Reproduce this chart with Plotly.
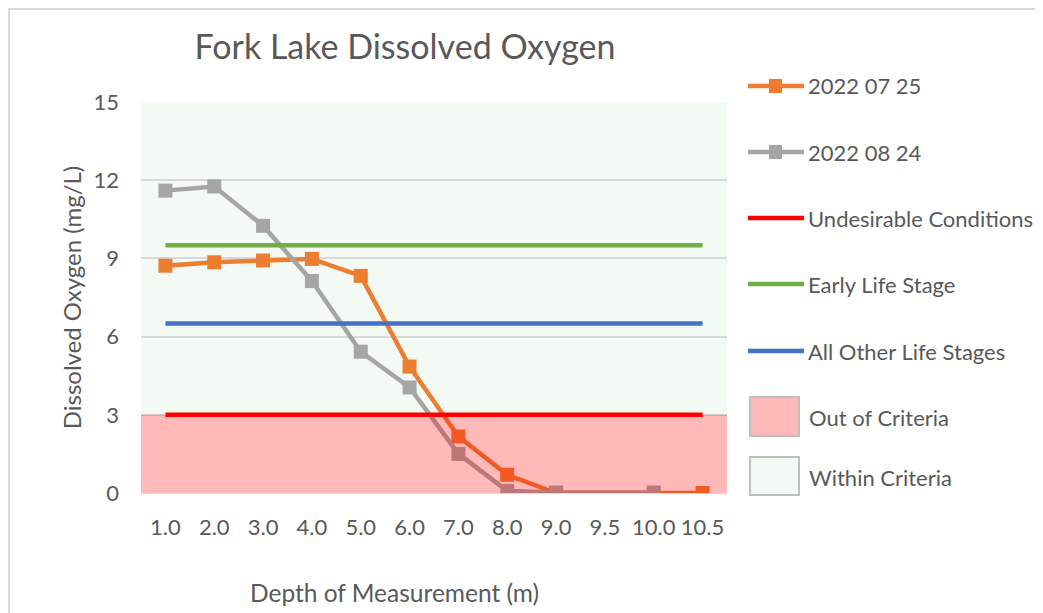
import plotly.graph_objects as go

depths = ["1.0", "2.0", "3.0", "4.0", "5.0", "6.0", "7.0", "8.0", "9.0", "9.5", "10.0", "10.5"]
do_0725 = [8.72, 8.85, 8.92, 8.98, 8.33, 4.85, 2.17, 0.70, 0.0, None, None, 0.0]
do_0824 = [11.60, 11.76, 10.25, 8.13, 5.42, 4.05, 1.50, 0.08, 0.02, None, 0.02, None]
undesirable = 3.0
early_life = 9.5
other_life = 6.5
y_ticks = [0, 3, 6, 9, 12, 15]

OFF = 8  # page body margin
W, H = 1043 - OFF, 613 - OFF
ML, MT = 141 - OFF, 102 - OFF
MR = W - (727 - OFF)
MB = H - (493 - OFF)
PW, PH = W - ML - MR, H - MT - MB
FONT = "Lato"
TXT = "#595959"


def px(x):
    # x in screen pixels of the reference
    return (x - OFF - ML) / PW


def py(y):
    return (MT + PH - (y - OFF)) / PH


fig = go.Figure()

fig.add_trace(go.Scatter(x=depths, y=do_0725, mode="lines+markers", name="2022 07 25",
                         connectgaps=True, line=dict(color="#ED7D31", width=4.5),
                         marker=dict(symbol="square", size=14, color="#ED7D31")))
fig.add_trace(go.Scatter(x=depths, y=do_0824, mode="lines+markers", name="2022 08 24",
                         connectgaps=True, line=dict(color="#A5A5A5", width=4.5),
                         marker=dict(symbol="square", size=14, color="#A5A5A5")))
for val, col, nm in [(undesirable, "#FF0000", "Undesirable Conditions"),
                     (early_life, "#70AD47", "Early Life Stage"),
                     (other_life, "#4472C4", "All Other Life Stages")]:
    fig.add_trace(go.Scatter(x=depths, y=[val] * len(depths), mode="lines", name=nm,
                             line=dict(color=col, width=4.5)))

shapes = []
# criteria bands
shapes.append(dict(type="rect", xref="paper", yref="y", x0=0, x1=1, y0=undesirable, y1=15,
                   fillcolor="#F3F9F3", line=dict(width=0), layer="below"))
shapes.append(dict(type="rect", xref="paper", yref="y", x0=0, x1=1, y0=0, y1=undesirable,
                   fillcolor="rgba(255,0,0,0.275)", line=dict(width=0), layer="above"))
# chart frame lines
shapes.append(dict(type="line", xref="paper", yref="paper", x0=px(OFF + 1), x1=px(OFF + 1),
                   y0=py(OFF), y1=py(613), line=dict(color="#D9D9D9", width=2)))
shapes.append(dict(type="line", xref="paper", yref="paper", x0=px(OFF), x1=px(1043),
                   y0=py(OFF + 1), y1=py(OFF + 1), line=dict(color="#D9D9D9", width=2)))

annotations = []
# manual legend
legend_lines = [("2022 07 25", "#ED7D31", 86, True),
                ("2022 08 24", "#A5A5A5", 152, True),
                ("Undesirable Conditions", "#FF0000", 218, False),
                ("Early Life Stage", "#70AD47", 284, False),
                ("All Other Life Stages", "#4472C4", 351, False)]
for name, col, yc, mk in legend_lines:
    shapes.append(dict(type="line", xref="paper", yref="paper", x0=px(748), x1=px(804),
                       y0=py(yc), y1=py(yc), line=dict(color=col, width=4.5)))
    if mk:
        shapes.append(dict(type="rect", xref="paper", yref="paper", x0=px(769), x1=px(782),
                           y0=py(yc + 7), y1=py(yc - 7), fillcolor=col, line=dict(width=0)))
    annotations.append(dict(text=name, xref="paper", yref="paper", x=px(806), y=py(yc),
                            xanchor="left", yanchor="middle", showarrow=False,
                            font=dict(family=FONT, size=22, color=TXT)))
legend_boxes = [("Out of Criteria", "#FFB9B9", 397, 436, 417),
                ("Within Criteria", "#F3F9F3", 457, 495, 477)]
for name, col, y0, y1, yc in legend_boxes:
    shapes.append(dict(type="rect", xref="paper", yref="paper", x0=px(750), x1=px(799),
                       y0=py(y1), y1=py(y0), fillcolor=col, line=dict(color="#BFBFBF", width=2)))
    annotations.append(dict(text=name, xref="paper", yref="paper", x=px(807), y=py(yc),
                            xanchor="left", yanchor="middle", showarrow=False,
                            font=dict(family=FONT, size=22, color=TXT)))

# x-axis title (offset left of plot centre, as in the original)
annotations.append(dict(text="Depth of Measurement (m)", xref="paper", yref="paper",
                        x=px(394), y=py(592), xanchor="center", yanchor="middle", showarrow=False,
                        font=dict(family=FONT, size=24.5, color=TXT)))

fig.update_layout(
    width=W, height=H,
    margin=dict(l=ML, r=MR, t=MT, b=MB),
    paper_bgcolor="white", plot_bgcolor="white",
    showlegend=False,
    font=dict(family=FONT, color=TXT),
    title=dict(text="Fork Lake Dissolved Oxygen", x=(405 - OFF) / W, y=1 - (47 - OFF) / H,
               xref="container", yref="container", xanchor="center", yanchor="middle",
               font=dict(family=FONT, size=34, color=TXT)),
    shapes=shapes,
    annotations=annotations,
    xaxis=dict(type="category", categoryorder="array", categoryarray=depths,
               range=[-0.5, len(depths) - 0.5], autorange=False,
               showgrid=False, showline=True, linecolor="#D9D9D9", linewidth=1,
               ticks="", ticklabelstandoff=15, tickfont=dict(family=FONT, size=22, color=TXT),
               zeroline=False),
    yaxis=dict(range=[0, 15], tickvals=y_ticks, showgrid=True, gridcolor="#D9D9D9", gridwidth=1.5,
               zeroline=False, showline=False, ticks="", ticklabelstandoff=21,
               tickfont=dict(family=FONT, size=22, color=TXT),
               title=dict(text="Dissolved Oxygen (mg/L)", standoff=5,
                          font=dict(family=FONT, size=24, color=TXT))),
)

fig.write_html("out.html")
